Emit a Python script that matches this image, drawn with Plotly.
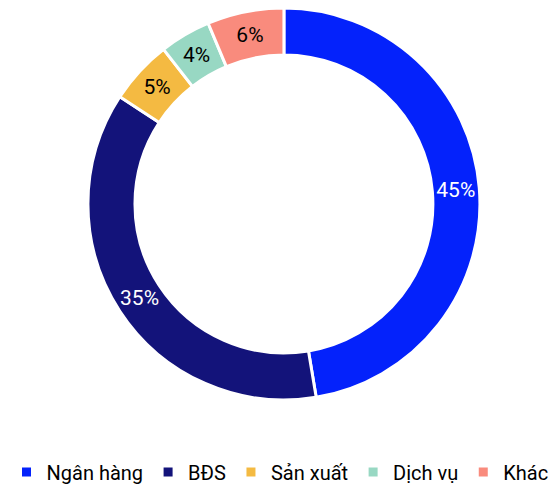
import plotly.graph_objects as go

# Sector shares (%)
labels = ["Ngân hàng", "BĐS", "Sản xuất", "Dịch vụ", "Khác"]
values = [45, 35, 5, 4, 6]
colors = ["#0422FB", "#13137A", "#F4BA42", "#98D8C3", "#F98B7D"]
text_colors = ["white", "white", "black", "black", "black"]

fig = go.Figure()
fig.add_trace(go.Pie(
    labels=labels,
    values=values,
    hole=0.76,
    sort=False,
    direction="clockwise",
    rotation=0,
    domain=dict(x=[0, 0.989], y=[0, 1]),
    marker=dict(colors=colors, line=dict(color="white", width=3)),
    texttemplate="%{value}%",
    textposition="inside",
    insidetextorientation="horizontal",
    textfont=dict(color=text_colors, size=21, family="Roboto"),
    hoverinfo="label+value",
))

# page body adds an 8px offset, so everything is placed 8px up/left
fig.update_layout(
    width=558,
    height=488,
    margin=dict(l=0, r=0, t=0, b=96),
    paper_bgcolor="white",
    plot_bgcolor="white",
    font=dict(family="Roboto", color="black"),
    uniformtext=dict(minsize=21, mode="show"),
    legend=dict(
        orientation="h",
        xref="container",
        yref="container",
        x=0.4875,
        xanchor="center",
        y=0.049,
        yanchor="middle",
        font=dict(size=20, family="Roboto"),
        itemwidth=30,
    ),
)

fig.write_html("out.html")
